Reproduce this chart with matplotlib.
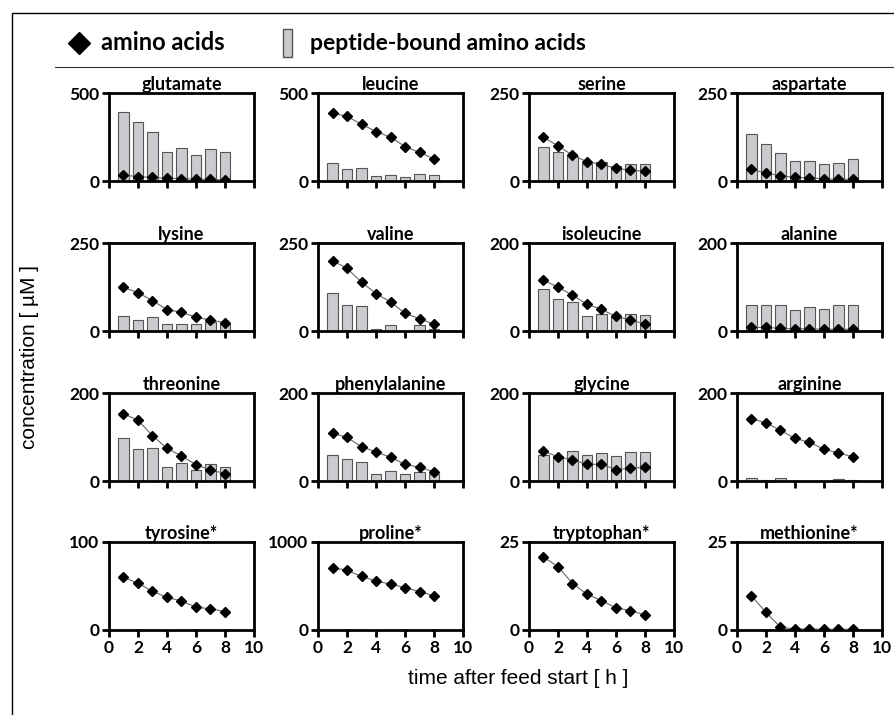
import numpy as np
import matplotlib.pyplot as plt
from matplotlib.lines import Line2D
from matplotlib.patches import Rectangle

hours = [1, 2, 3, 4, 5, 6, 7, 8]

# free amino acids (diamonds) and peptide-bound amino acids (bars), µM
glutamate_free = [33, 25, 20, 15, 14, 10, 10, 6]
glutamate_bound = [391, 335, 279, 165, 186, 146, 179, 165]
leucine_free = [386, 367, 323, 281, 249, 196, 162, 125]
leucine_bound = [101, 67, 74, 27, 34, 23, 38, 34]
serine_free = [124, 100, 73, 55, 47, 36, 31, 27]
serine_bound = [96, 81, 71, 48, 55, 43, 49, 48]
aspartate_free = [33, 22, 15, 10, 9, 6, 5, 5]
aspartate_bound = [133, 105, 79, 57, 57, 48, 50, 62]
lysine_free = [124, 109, 86, 61, 53, 39, 31, 24]
lysine_bound = [43, 30, 39, 19, 19, 21, 25, 21]
valine_free = [200, 178, 139, 106, 83, 50, 35, 19]
valine_bound = [109, 74, 70, 6, 16, 0, 16, 6]
isoleucine_free = [115, 100, 81, 61, 49, 33, 25, 16]
isoleucine_bound = [95, 72, 67, 34, 38, 31, 38, 37]
alanine_free = [8, 8, 6, 5, 5, 4, 4, 4]
alanine_bound = [60, 59, 60, 48, 54, 51, 58, 59]
threonine_free = [153, 138, 103, 74, 57, 37, 25, 17]
threonine_bound = [97, 72, 74, 31, 42, 26, 38, 32]
phenylalanine_free = [109, 99, 78, 66, 54, 38, 31, 21]
phenylalanine_bound = [60, 49, 43, 17, 22, 15, 20, 17]
glycine_free = [68, 55, 48, 38, 38, 26, 29, 31]
glycine_bound = [60, 57, 68, 60, 63, 56, 67, 67]
arginine_free = [142, 132, 115, 97, 88, 72, 64, 55]
arginine_bound = [7, 2, 7, 0, 0, 0, 4, 2]
tyrosine_free = [60, 53, 44, 37, 33, 26, 24, 21]
proline_free = [709, 679, 608, 556, 522, 481, 437, 388]
tryptophan_free = [20.7, 18.0, 13.2, 10.2, 8.3, 6.3, 5.5, 4.3]
methionine_free = [9.7, 5.0, 0.8, 0.3, 0.3, 0.2, 0.2, 0.2]

panels = [
    ("glutamate", 500, glutamate_free, glutamate_bound),
    ("leucine", 500, leucine_free, leucine_bound),
    ("serine", 250, serine_free, serine_bound),
    ("aspartate", 250, aspartate_free, aspartate_bound),
    ("lysine", 250, lysine_free, lysine_bound),
    ("valine", 250, valine_free, valine_bound),
    ("isoleucine", 200, isoleucine_free, isoleucine_bound),
    ("alanine", 200, alanine_free, alanine_bound),
    ("threonine", 200, threonine_free, threonine_bound),
    ("phenylalanine", 200, phenylalanine_free, phenylalanine_bound),
    ("glycine", 200, glycine_free, glycine_bound),
    ("arginine", 200, arginine_free, arginine_bound),
    ("tyrosine*", 100, tyrosine_free, None),
    ("proline*", 1000, proline_free, None),
    ("tryptophan*", 25, tryptophan_free, None),
    ("methionine*", 25, methionine_free, None),
]

W, H = 895, 715
bold_font = ["Lato", "DejaVu Sans"]
bar_face = "#c9cbce"
bar_edge = "#555555"

fig = plt.figure(figsize=(W / 100, H / 100), dpi=100)

col_left = [109, 318, 529, 737]
row_top = [93, 243, 393, 542]
pw, ph = 145, 88

for i, (name, ymax, free, bound) in enumerate(panels):
    r, c = divmod(i, 4)
    ax = fig.add_axes([col_left[c] / W, 1 - (row_top[r] + ph) / H, pw / W, ph / H])
    if bound is not None:
        ax.bar(hours, bound, width=0.7, color=bar_face, edgecolor=bar_edge,
               linewidth=0.8, zorder=2)
    ax.plot(hours, free, color="#666666", lw=0.8, marker="D", ms=5.5,
            mfc="black", mec="black", zorder=3)
    ax.set_xlim(0, 10)
    ax.set_ylim(0, ymax)
    ax.set_xticks([0, 2, 4, 6, 8, 10])
    ax.set_yticks([0, ymax])
    for s in ax.spines.values():
        s.set_linewidth(2.0)
    ax.tick_params(direction="out", length=5, width=2.0, pad=2)
    ax.tick_params(axis="x", labelbottom=(r == 3))
    for lab in ax.get_xticklabels() + ax.get_yticklabels():
        lab.set_fontfamily(bold_font)
        lab.set_fontweight("bold")
        lab.set_fontsize(12.5)
    ax.set_title(name, fontsize=13, fontweight="bold", family=bold_font, pad=1)

# legend row
fig.add_artist(Line2D([79 / W], [1 - 43 / H], marker="D", ms=11.5, color="black",
                      transform=fig.transFigure))
fig.text(101 / W, 1 - 43 / H, "amino acids", fontsize=17, fontweight="bold",
         family=bold_font, va="center")
fig.add_artist(Rectangle((283 / W, 1 - 57 / H), 9 / W, 28 / H, facecolor=bar_face,
                         edgecolor=bar_edge, lw=1, transform=fig.transFigure))
fig.text(310 / W, 1 - 43 / H, "peptide-bound amino acids", fontsize=16.5,
         fontweight="bold", family=bold_font, va="center")

# frame lines
fig.add_artist(Line2D([12 / W, 12 / W, 1], [0, 1 - 13 / H, 1 - 13 / H],
                      color="black", lw=1, transform=fig.transFigure))
fig.add_artist(Line2D([55 / W, 1], [1 - 67 / H, 1 - 67 / H], color="#333333",
                      lw=0.8, transform=fig.transFigure))

fig.text(30 / W, 1 - 357 / H, "concentration [ µM ]", rotation=90, fontsize=15,
         family="Liberation Sans", va="center", ha="center")
fig.text(518 / W, 1 - 678 / H, "time after feed start [ h ]", fontsize=15,
         family="Liberation Sans", va="center", ha="center")

fig.savefig("out.png", dpi=100)
